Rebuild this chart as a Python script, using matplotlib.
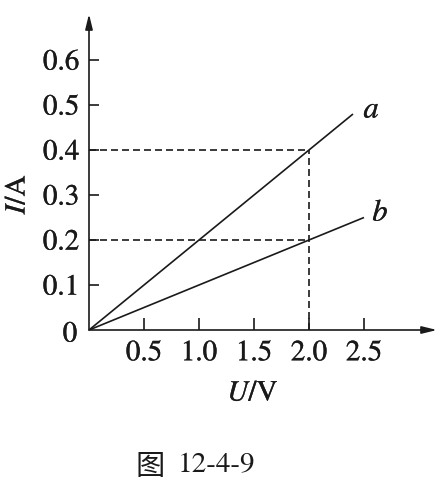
import matplotlib
matplotlib.use("Agg")
import matplotlib.pyplot as plt
import matplotlib.patheffects as pe

plt.rcParams['mathtext.fontset'] = 'stix'
plt.rcParams['font.family'] = ['STIXGeneral', 'Noto Sans CJK SC']

# data
U_a = [0.0, 2.4]
I_a = [0.0, 0.48]
U_b = [0.0, 2.5]
I_b = [0.0, 0.25]
U_mark = 2.0
I_marks = [0.4, 0.2]
x_ticks = [0.5, 1.0, 1.5, 2.0, 2.5]
x_labels = ["0.5", "1.0", "1.5", "2.0", "2.5"]
y_ticks = [0.1, 0.2, 0.3, 0.4, 0.5, 0.6]
y_labels = ["0.1", "0.2", "0.3", "0.4", "0.5", "0.6"]

W, H = 440, 485
fig = plt.figure(figsize=(W / 100, H / 100), dpi=100)
x0, y0 = 89, 331      # origin pixel
xr, yt = 437, 15      # arrow tips
ax = fig.add_axes([x0 / W, (H - y0) / H, (xr - x0) / W, (y0 - yt) / H])
ax.set_xlim(0, (xr - x0) / 110)
ax.set_ylim(0, (y0 - yt) / 450)
for s in ax.spines.values():
    s.set_visible(False)
ax.patch.set_alpha(0)

lw = 1.2
c = '#1a1a1a'
fs = 21
bold = [pe.withStroke(linewidth=0.2, foreground=c)]
# axes with arrows
ax.annotate('', xy=(1, 0), xytext=(0, 0), xycoords='axes fraction',
            arrowprops=dict(arrowstyle='-|>,head_length=0.9,head_width=0.22', color=c, lw=lw, shrinkA=0, shrinkB=0),
            annotation_clip=False)
ax.annotate('', xy=(0, 1), xytext=(0, 0), xycoords='axes fraction',
            arrowprops=dict(arrowstyle='-|>,head_length=0.9,head_width=0.22', color=c, lw=lw, shrinkA=0, shrinkB=0),
            annotation_clip=False)

ax.set_xticks(x_ticks)
ax.set_xticklabels(x_labels)
ax.set_yticks(y_ticks)
ax.set_yticklabels(y_labels)
ax.tick_params(axis='x', direction='in', length=8.5, width=lw, color=c, pad=8, labelsize=fs, labelcolor=c)
ax.tick_params(axis='y', direction='in', length=7.5, width=lw, color=c, pad=7, labelsize=fs, labelcolor=c)
for t in ax.get_xticklabels() + ax.get_yticklabels():
    t.set_path_effects(bold)

# lines
ax.plot(U_a, I_a, color=c, lw=lw, solid_capstyle='butt')
ax.plot(U_b, I_b, color=c, lw=lw, solid_capstyle='butt')

# dashed guides
dash = (0, (4.2, 2.4))
for im in I_marks:
    ax.plot([0, U_mark], [im, im], color=c, lw=lw, linestyle=dash)
ax.plot([U_mark, U_mark], [0, max(I_marks)], color=c, lw=lw, linestyle=dash)

# line labels
ax.text(U_a[1] + 0.17, I_a[1] + 0.007, r'$a$', fontsize=22, color=c, ha='center', va='center', path_effects=bold)
ax.text(U_b[1] + 0.15, I_b[1] + 0.008, r'$b$', fontsize=22, color=c, ha='center', va='center', path_effects=bold)

# origin label
fig.text(70 / W, 1 - 336 / H, '0', fontsize=fs, color=c, ha='center', va='center', path_effects=bold)

# axis labels
fig.text(18 / W, 1 - 195 / H, r'$I/\mathrm{A}$', fontsize=fs, color=c, rotation=90, ha='center', va='center', path_effects=bold)
fig.text(253 / W, 1 - 395 / H, r'$U/\mathrm{V}$', fontsize=fs, color=c, ha='center', va='center', path_effects=bold)

# caption
fig.text(150 / W, 1 - 467 / H, '图', fontsize=21, color=c, ha='center', va='center', family=['Noto Sans CJK SC'])
fig.text(178 / W, 1 - 466 / H, '12-4-9', fontsize=21, color=c, ha='left', va='center', family=['STIXGeneral'])

fig.savefig('out.png', dpi=100)
